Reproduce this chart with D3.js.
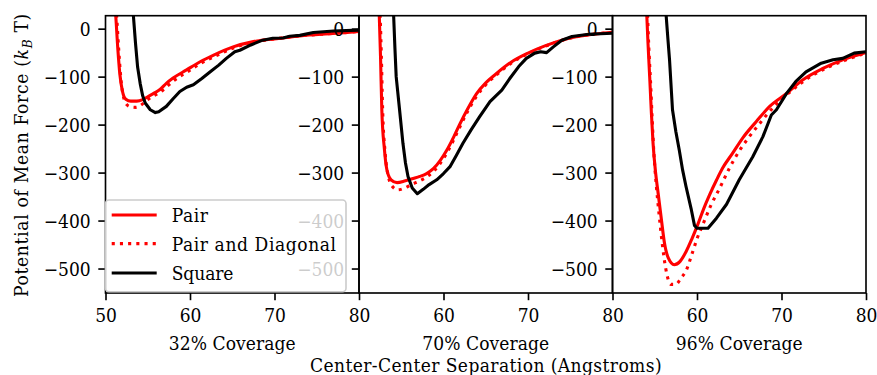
<!DOCTYPE html>
<html><head><meta charset="utf-8">
<script src="https://cdn.jsdelivr.net/npm/d3@7"></script>
<style>
body{margin:0;background:#fff}
svg{display:block}
text{font-family:"DejaVu Serif Condensed","DejaVu Serif","Liberation Serif",serif;font-stretch:condensed;fill:#000}
</style>
</head><body>
<svg id="chart" width="877" height="375"></svg>
<script>
// ---------------- data ----------------
const seriesNames = ["Pair", "Pair and Diagonal", "Square"];
const coverageLabels = ["32% Coverage", "70% Coverage", "96% Coverage"];
const xLabel = "Center-Center Separation (Angstroms)";
const yTicks = [0, -100, -200, -300, -400, -500];
const xTicks = [50, 60, 70, 80];

// 32% coverage
const sep32Pair = [50.9,51.2,51.45,51.7,52.0,52.4,53.0,53.7,54.4,55.0,55.7,56.45,57.2,58.0,59.6,61.2,62.8,65.1,67.5,70.7,73,76.9,80];
const pmf32Pair = [80,30,-40,-95,-130,-147,-151,-151,-148,-142,-135,-127,-114,-103,-86,-69,-55,-38,-27,-20,-15,-10,-6];
const sep32Diag = [51.0,51.3,51.55,51.8,52.1,52.5,53.0,53.6,54.3,55.0,55.7,56.5,57.3,58.1,59.7,61.3,62.9,65.2,67.5,70.7,73,76.9,80];
const pmf32Diag = [80,30,-40,-100,-140,-158,-163,-164,-158,-148,-140,-132,-120,-108,-90,-72,-58,-40,-28,-20,-15,-10,-6];
const sep32Square = [53.1,53.3,53.55,53.8,54.1,54.4,54.7,55.3,55.9,56.3,57.2,58.0,58.8,59.6,60.4,61.4,62.4,63.4,64.3,65.3,65.9,67.2,68.6,69.8,71.0,71.8,73.0,74.6,77,80];
const pmf32Square = [60,27,-30,-80,-114,-140,-155,-169,-175,-173,-162,-146,-131,-122,-117,-104,-90,-76,-62,-48,-45,-34,-24,-20,-19.5,-16,-14,-8,-5,-3];

// 70% coverage
const sep70Pair = [52.2,52.4,52.55,52.7,53.0,53.3,53.8,54.5,55.5,56.5,57.2,58.0,58.8,59.6,60.4,61.2,61.9,62.9,63.9,65.0,66.1,68,70,72,74,76,77.1,80];
const pmf70Pair = [80,27,-60,-169,-250,-294,-315,-321,-317,-312,-308,-302,-292,-275,-253,-226,-200,-166,-136,-113,-96,-70,-51,-36,-24,-16,-13,-7.5];
const sep70Diag = [52.3,52.5,52.65,52.8,53.1,53.5,54.0,54.6,55.3,56.2,57.2,58.0,58.8,59.6,60.4,61.2,61.9,62.9,63.9,65.0,66.1,68,70,72,74,76,77.1,80];
const pmf70Diag = [80,27,-60,-170,-260,-310,-330,-336,-333,-325,-317,-309,-298,-281,-259,-232,-206,-171,-141,-117,-99,-72,-52,-37,-24.5,-16,-13,-7.5];
const sep70Square = [53.9,54.1,54.25,54.4,54.8,55.2,55.5,55.8,56.3,56.9,57.6,58.3,59.2,60.0,60.8,61.5,62.3,63.3,64.3,65.5,66.9,67.8,68.9,69.8,70.8,71.5,72.2,73.0,74.0,75.2,77.2,80];
const pmf70Square = [80,27,-40,-100,-169,-239,-280,-308,-332,-344,-335,-325,-315,-302,-287,-265,-239,-210,-183,-152,-128,-105,-79,-62,-51,-48,-50,-38,-24,-16.5,-11.7,-9.5];

// 96% coverage
const sep96Pair = [53.9,54.06,54.2,54.4,54.6,54.8,55.1,55.4,55.8,56.15,56.6,57.3,58.0,58.7,59.4,60.1,60.8,61.5,62.3,63.05,64.2,65.4,67.0,68.6,70.6,72.5,74.9,77.25,79.8,80];
const pmf96Pair = [80,27,-30,-100,-175,-239,-300,-343,-400,-447,-478,-492,-485,-465,-438,-408,-375,-346,-316,-290,-260,-228,-194,-162,-135,-107,-83,-65,-51,-50];
const sep96Diag = [54.0,54.15,54.3,54.5,54.7,54.9,55.2,55.5,55.9,56.3,56.9,57.5,58.1,58.7,59.4,60.0,60.7,61.6,62.7,63.8,65.0,66.2,67.4,69.4,71,72.5,74,75.7,77.5,79.6,80];
const pmf96Diag = [80,27,-40,-110,-190,-260,-330,-385,-450,-500,-533,-533,-520,-505,-470,-438,-408,-370,-332,-292,-255,-225,-198,-157,-132,-111,-94,-79,-66,-53,-51];
const sep96Square = [56.2,56.35,56.55,56.75,57.1,57.5,57.9,58.3,58.7,59.3,59.7,60.0,61.3,62.3,63.5,65.0,66.6,67.8,68.8,69.4,70.6,71.7,72.9,74.7,76.1,77.25,78.6,80];
const pmf96Square = [80,27,-20,-65,-169,-215,-253,-295,-329,-375,-410,-416,-416,-395,-366,-315,-267,-225,-180,-169,-135,-110,-90,-72,-65,-62,-51,-48];

// ---------------- layout / styles ----------------
const panels = [
  {label: coverageLabels[0], series: [[sep32Pair, pmf32Pair], [sep32Diag, pmf32Diag], [sep32Square, pmf32Square]]},
  {label: coverageLabels[1], series: [[sep70Pair, pmf70Pair], [sep70Diag, pmf70Diag], [sep70Square, pmf70Square]]},
  {label: coverageLabels[2], series: [[sep96Pair, pmf96Pair], [sep96Diag, pmf96Diag], [sep96Square, pmf96Square]]}
];
const styles = [
  {color: "#ff0000", dash: null, curve: d3.curveMonotoneX},
  {color: "#ff0000", dash: "3.1,5.1", curve: d3.curveMonotoneX},
  {color: "#000000", dash: null, curve: d3.curveLinear}
];

const FS = 19;
const plotTop = 15.7, plotBottom = 293;
const panelLefts = [105.5, 359, 612.5], panelW = 253.5;
const lw = 3.1, spineW = 1.64, tickLen = 7.2;

const svg = d3.select("#chart");
const defs = svg.append("defs");
const y = d3.scaleLinear().domain([-551, 27]).range([plotBottom, plotTop]);

function fit(sel, target) {
  const n = sel.node();
  const len = n.getComputedTextLength();
  const chars = n.textContent.length;
  sel.attr("letter-spacing", ((target - len) / chars).toFixed(3));
}

panels.forEach((p, i) => {
  const left = panelLefts[i];
  const x = d3.scaleLinear().domain([50, 80]).range([left, left + panelW]);
  const g = svg.append("g");

  defs.append("clipPath").attr("id", "clip" + i)
    .append("rect").attr("x", left).attr("y", plotTop)
    .attr("width", panelW).attr("height", plotBottom - plotTop);

  const lines = g.append("g").attr("clip-path", `url(#clip${i})`);
  p.series.forEach(([xs, ys], k) => {
    const st = styles[k];
    const pts = xs.map((v, j) => [v, ys[j]]);
    lines.append("path")
      .attr("d", d3.line().x(d => x(d[0])).y(d => y(d[1])).curve(st.curve)(pts))
      .attr("fill", "none").attr("stroke", st.color).attr("stroke-width", lw)
      .attr("stroke-linejoin", "round")
      .attr("stroke-dasharray", st.dash);
  });

  // y axis
  const ya = g.append("g").attr("transform", `translate(${left},0)`)
    .call(d3.axisLeft(y).tickValues(yTicks).tickSize(tickLen).tickPadding(7.6).tickFormat(d3.format("d")));
  ya.attr("font-family", null);
  ya.select(".domain").remove();
  ya.selectAll("line").attr("stroke", "#000").attr("stroke-width", spineW);
  ya.selectAll("text").attr("font-size", FS).attr("dy", "0.36em");

  // x axis
  const xt = i === 0 ? xTicks : xTicks.slice(1);
  const xa = g.append("g").attr("transform", `translate(0,${plotBottom})`)
    .call(d3.axisBottom(x).tickValues(xt).tickSize(tickLen).tickPadding(8.2).tickFormat(d3.format("d")));
  xa.attr("font-family", null);
  xa.select(".domain").remove();
  xa.selectAll("line").attr("stroke", "#000").attr("stroke-width", spineW);
  xa.selectAll("text").attr("font-size", FS);

  // frame
  g.append("rect").attr("x", left).attr("y", plotTop)
    .attr("width", panelW).attr("height", plotBottom - plotTop)
    .attr("fill", "none").attr("stroke", "#000").attr("stroke-width", spineW);

  // subtitle
  const t = svg.append("text").attr("x", left + panelW / 2).attr("y", 349.5)
    .attr("text-anchor", "middle").attr("font-size", FS).text(p.label);
  fit(t, 127);
});

// common x label
const xl = svg.append("text").attr("x", 486).attr("y", 372)
  .attr("text-anchor", "middle").attr("font-size", FS).text(xLabel);
fit(xl, 352);

// y label
const yl = svg.append("text").attr("transform", "rotate(-90)")
  .attr("x", -155).attr("y", 28).attr("text-anchor", "middle").attr("font-size", FS);
yl.append("tspan").text("Potential of Mean Force (");
yl.append("tspan").attr("font-style", "italic").text("k");
yl.append("tspan").attr("font-size", 13.5).attr("dy", 3.5).attr("font-style", "italic").text("B");
yl.append("tspan").attr("dy", -3.5).text(" T)");
fit(yl, 284);

// legend
const lg = svg.append("g");
lg.append("rect").attr("x", 105.5).attr("y", 200).attr("width", 240.5).attr("height", 91.7)
  .attr("rx", 3.5).attr("fill", "#fff").attr("fill-opacity", 0.8)
  .attr("stroke", "#cccccc").attr("stroke-width", spineW);
const legY = [215, 243.6, 273];
const legW = [36.7, 165, 61.7];
seriesNames.forEach((name, k) => {
  const st = styles[k];
  lg.append("line").attr("x1", 111.7).attr("x2", 156.7).attr("y1", legY[k]).attr("y2", legY[k])
    .attr("stroke", st.color).attr("stroke-width", lw).attr("stroke-dasharray", st.dash);
  const t = lg.append("text").attr("x", 171.7).attr("y", legY[k] + 7.4).attr("font-size", FS).text(name);
  fit(t, legW[k]);
});
</script>
</body></html>
